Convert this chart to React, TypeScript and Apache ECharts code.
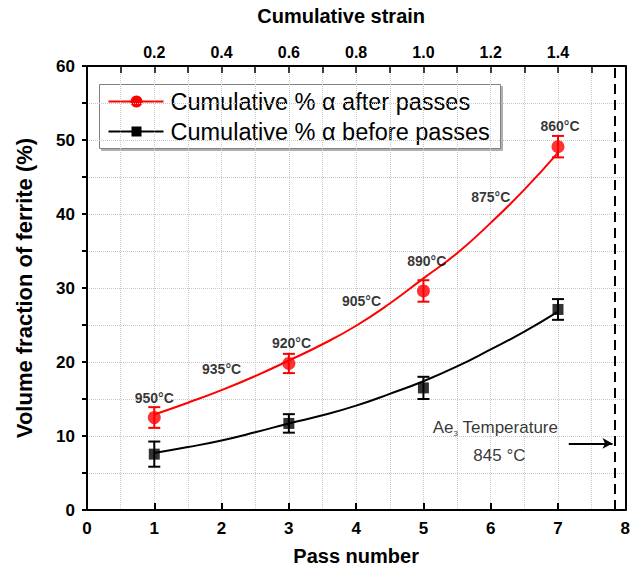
import React, { useEffect, useRef } from "react";
import * as echarts from "echarts";

const passes = [1, 3, 5, 7];
const afterPct = [12.5, 19.8, 29.6, 49.1];
const afterErr = [1.4, 1.3, 1.45, 1.45];
const beforePct = [7.55, 11.7, 16.5, 27.1];
const beforeErr = [1.7, 1.25, 1.5, 1.4];

const fitX = [1, 1.5, 2, 2.5, 3, 3.5, 4, 4.5, 5, 5.5, 6, 6.5, 7];
const afterFit = [12.9, 14.5, 16.2, 18.1, 20.2, 22.4, 24.9, 27.9, 31.3, 34.7, 38.8, 43.3, 48.3];
const beforeFit = [7.7, 8.5, 9.4, 10.5, 11.7, 12.8, 14.1, 15.7, 17.4, 19.4, 21.7, 24.1, 26.8];

const tempLabels = ["950°C", "935°C", "920°C", "905°C", "890°C", "875°C", "860°C"];
const tempX = [1.0, 2.0, 3.04, 4.08, 5.05, 6.0, 7.03];
const tempY = [15.1, 19.0, 22.6, 28.3, 33.7, 42.3, 51.9];

const ae3Pass = 7.85;
const arrowFrom = [7.16, 9.0];
const arrowTo = [7.81, 9.0];

const legendNames = ["Cumulative % α after passes", "Cumulative % α before passes"];

const FONT = "'Liberation Sans', Arial, sans-serif";

export default function App() {
  const ref = useRef<HTMLDivElement>(null);
  useEffect(() => {
    if (!ref.current) return;
    const chart = echarts.init(ref.current, undefined, { renderer: "svg" });

    const errRender = (color: string) => (params: any, api: any) => {
      const x = api.value(0);
      const lo = api.value(1);
      const hi = api.value(2);
      const pHi = api.coord([x, hi]);
      const pLo = api.coord([x, lo]);
      const w = 6;
      const st = { stroke: color, lineWidth: 2 };
      return {
        type: "group",
        children: [
          { type: "line", shape: { x1: pHi[0], y1: pHi[1], x2: pLo[0], y2: pLo[1] }, style: st },
          { type: "line", shape: { x1: pHi[0] - w, y1: pHi[1], x2: pHi[0] + w, y2: pHi[1] }, style: st },
          { type: "line", shape: { x1: pLo[0] - w, y1: pLo[1], x2: pLo[0] + w, y2: pLo[1] }, style: st },
        ],
      };
    };

    const gridLine = { show: true, lineStyle: { color: "#c8c8c8", type: "dotted", width: 1 } };

    const option: any = {
      animation: false,
      textStyle: { fontFamily: FONT },
      grid: { left: 87, right: 3, top: 66, bottom: 60 },
      xAxis: [
        {
          type: "value",
          position: "bottom",
          min: 0,
          max: 8,
          interval: 1,
          axisLine: { show: true, onZero: false, lineStyle: { color: "#000", width: 2 } },
          axisTick: { show: true, inside: true, length: 7, lineStyle: { color: "#000", width: 2 } },
          axisLabel: { color: "#000", fontWeight: "bold", fontSize: 17, margin: 10, fontFamily: FONT },
          splitLine: { show: false },
          name: "Pass number",
          nameLocation: "middle",
          nameGap: 36,
          nameTextStyle: { color: "#000", fontWeight: "bold", fontSize: 20, fontFamily: FONT },
        },
        {
          type: "value",
          position: "top",
          min: 0,
          max: 1.6,
          interval: 0.1,
          axisLine: { show: true, onZero: false, lineStyle: { color: "#000", width: 2 } },
          axisTick: { show: true, inside: true, length: 7, lineStyle: { color: "#000", width: 1.5 } },
          axisLabel: {
            color: "#000",
            fontWeight: "bold",
            fontSize: 16,
            margin: 6,
            fontFamily: FONT,
            formatter: (v: number) => {
              const k = Math.round(v * 10);
              if (k % 2 !== 0 || k === 0 || k === 16) return "";
              return (k / 10).toFixed(1);
            },
          },
          splitLine: gridLine,
          name: "Cumulative strain",
          nameLocation: "middle",
          nameGap: 40,
          nameTextStyle: { color: "#000", fontWeight: "bold", fontSize: 20, fontFamily: FONT, padding: [0, 30, 0, 0] },
        },
      ],
      yAxis: [
        {
          type: "value",
          position: "left",
          min: 0,
          max: 60,
          interval: 5,
          axisLine: { show: true, onZero: false, lineStyle: { color: "#000", width: 2 } },
          axisTick: { show: true, inside: false, length: 5, lineStyle: { color: "#000", width: 2 } },
          axisLabel: {
            color: "#000",
            fontWeight: "bold",
            fontSize: 17,
            margin: 12,
            fontFamily: FONT,
            formatter: (v: number) => (Math.round(v) % 10 === 0 ? String(Math.round(v)) : ""),
          },
          splitLine: gridLine,
          name: "Volume fraction of ferrite (%)",
          nameLocation: "middle",
          nameGap: 52,
          nameTextStyle: { color: "#000", fontWeight: "bold", fontSize: 22, fontFamily: FONT },
        },
        {
          type: "value",
          position: "right",
          min: 0,
          max: 60,
          interval: 5,
          axisLine: { show: true, onZero: false, lineStyle: { color: "#000", width: 2 } },
          axisTick: { show: false },
          axisLabel: { show: false },
          splitLine: { show: false },
        },
      ],
      series: [
        {
          name: "afterFit",
          type: "line",
          data: fitX.map((x, i) => [x, afterFit[i]]),
          smooth: true,
          showSymbol: false,
          lineStyle: { color: "#ff0000", width: 2 },
          z: 2,
        },
        {
          name: "beforeFit",
          type: "line",
          data: fitX.map((x, i) => [x, beforeFit[i]]),
          smooth: true,
          showSymbol: false,
          lineStyle: { color: "#000", width: 2 },
          z: 2,
          markLine: {
            silent: true,
            symbol: ["none", "none"],
            label: { show: false },
            data: [
              { xAxis: ae3Pass, lineStyle: { color: "#000", width: 2, type: [10, 6] } },
              [
                { coord: arrowFrom, symbol: "none" },
                { coord: arrowTo, symbol: "arrow", symbolSize: [8, 10], lineStyle: { color: "#000", width: 2, type: "solid" } },
              ],
            ],
          },
        },
        {
          name: "afterErr",
          type: "custom",
          renderItem: errRender("#ff0000"),
          data: passes.map((p, i) => [p, afterPct[i] - afterErr[i], afterPct[i] + afterErr[i]]),
          z: 3,
        },
        {
          name: "beforeErr",
          type: "custom",
          renderItem: errRender("#000"),
          data: passes.map((p, i) => [p, beforePct[i] - beforeErr[i], beforePct[i] + beforeErr[i]]),
          z: 3,
        },
        {
          name: legendNames[0],
          type: "scatter",
          symbol: "circle",
          symbolSize: 13,
          itemStyle: { color: "#ff0000" },
          data: passes.map((p, i) => [p, afterPct[i]]),
          z: 4,
        },
        {
          name: legendNames[1],
          type: "scatter",
          symbol: "rect",
          symbolSize: 11,
          itemStyle: { color: "#000" },
          data: passes.map((p, i) => [p, beforePct[i]]),
          z: 4,
        },
        {
          name: "temps",
          type: "scatter",
          symbolSize: 0,
          silent: true,
          data: tempLabels.map((t, i) => ({ name: t, value: [tempX[i], tempY[i]] })),
          label: {
            show: true,
            position: "inside",
            formatter: (p: any) => p.name,
            color: "#000",
            fontWeight: "bold",
            fontSize: 14,
            fontFamily: FONT,
          },
          z: 5,
        },
        {
          name: "ae3",
          type: "scatter",
          symbolSize: 0,
          silent: true,
          data: [
            { name: "ae3", value: [6.07, 11.2] },
            { name: "t845", value: [6.13, 7.4] },
          ],
          label: {
            show: true,
            position: "inside",
            fontFamily: FONT,
            formatter: (p: any) => (p.name === "ae3" ? "{n|Ae}{s|3}{n| Temperature}" : "{n|845 °C}"),
            rich: {
              n: { fontSize: 17, color: "#000", fontFamily: FONT },
              s: { fontSize: 8, color: "#000", fontFamily: FONT, padding: [12, 0, 0, 0] },
            },
          },
          z: 5,
        },
      ],
      graphic: [
        {
          type: "group",
          left: 99,
          top: 84,
          children: [
            {
              type: "rect",
              shape: { x: 0, y: 0, width: 401, height: 64 },
              style: { fill: "#fff", stroke: "#808080", lineWidth: 1, shadowColor: "#b0b0b0", shadowOffsetX: 2, shadowOffsetY: 2, shadowBlur: 0 },
            },
            { type: "line", shape: { x1: 9, y1: 17, x2: 64, y2: 17 }, style: { stroke: "#ff0000", lineWidth: 2 } },
            { type: "circle", shape: { cx: 37, cy: 17, r: 6 }, style: { fill: "#ff0000" } },
            { type: "line", shape: { x1: 9, y1: 47, x2: 64, y2: 47 }, style: { stroke: "#000", lineWidth: 2 } },
            { type: "rect", shape: { x: 32, y: 42, width: 10, height: 10 }, style: { fill: "#000" } },
            {
              type: "text",
              x: 71,
              y: 17,
              style: { text: legendNames[0], fontSize: 23.5, fontFamily: FONT, fill: "#000", verticalAlign: "middle", align: "left" },
            },
            {
              type: "text",
              x: 71,
              y: 47,
              style: { text: legendNames[1], fontSize: 23.5, fontFamily: FONT, fill: "#000", verticalAlign: "middle", align: "left" },
            },
          ],
        },
      ],
    };
    chart.setOption(option);
    return () => chart.dispose();
  }, []);
  return (
    <div
      ref={ref}
      style={{ position: "fixed", left: 0, top: 0, width: 633, height: 571, background: "#fff" }}
    />
  );
}
